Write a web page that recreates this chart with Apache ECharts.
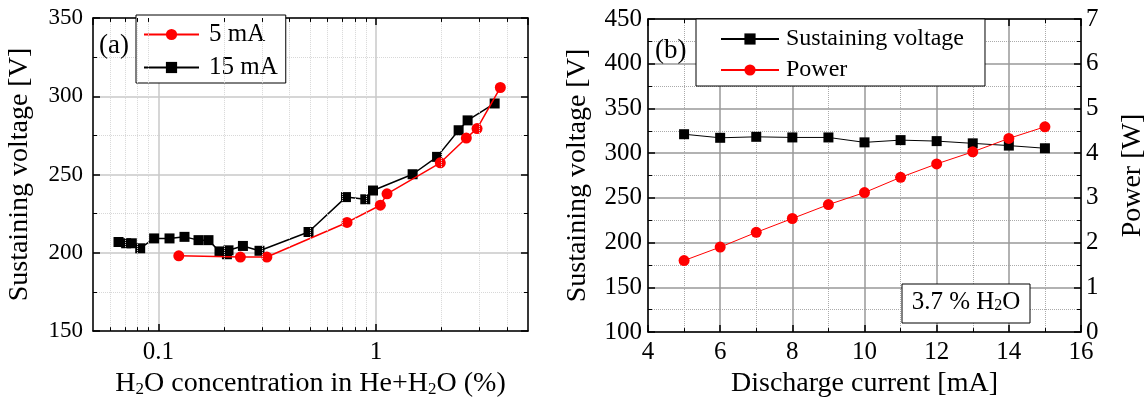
<!DOCTYPE html>
<html>
<head>
<meta charset="utf-8">
<script src="https://cdn.jsdelivr.net/npm/echarts@6/dist/echarts.min.js"></script>
<style>
html,body{margin:0;padding:0;background:#fff;}
#chart{width:1148px;height:403px;}
</style>
</head>
<body>
<div id="chart"></div>
<script>
// ---- Panel (a) data ----
const conc5 = [0.124, 0.238, 0.315, 0.736, 1.047, 1.124, 1.976, 2.603, 2.915, 3.73];
const volt5 = [198.1, 197.3, 197.3, 219.4, 230.4, 237.7, 257.5, 273.3, 279.4, 305.6];
const conc15 = [0.0655, 0.0710, 0.0754, 0.0824, 0.0955, 0.1124, 0.1317, 0.1528, 0.1698, 0.1908, 0.2064, 0.2099, 0.2445, 0.2914, 0.4897, 0.7278, 0.893, 0.969, 1.474, 1.909, 2.399, 2.638, 3.513];
const volt15 = [206.9, 206.1, 206.1, 202.9, 209.2, 209.2, 210.2, 208.1, 208.1, 200.9, 199.1, 201.6, 204.4, 201.3, 213.3, 235.6, 234.2, 239.8, 250.2, 261.3, 278.3, 284.6, 295.4];
const minorLogTicks = [0.06, 0.07, 0.08, 0.09, 0.2, 0.3, 0.4, 0.5, 0.6, 0.7, 0.8, 0.9, 2, 3, 4];
const legendA = ['5 mA', '15 mA'];

// ---- Panel (b) data ----
const current = [5, 6, 7, 8, 9, 10, 11, 12, 13, 14, 15];
const voltB = [321.2, 317.2, 318.3, 317.6, 317.6, 312.1, 314.6, 313.5, 311.0, 308.5, 305.5];
const power = [1.60, 1.90, 2.23, 2.54, 2.85, 3.12, 3.46, 3.76, 4.03, 4.33, 4.59];
const legendB = ['Sustaining voltage', 'Power'];

const FONT = 'Liberation Serif';
const zip = (a, b) => a.map((v, i) => [v, b[i]]);

const subRich = { s: { fontFamily: FONT, fontSize: 17, lineHeight: 10, verticalAlign: 'bottom', color: '#000' } };
const labelStyle = { fontFamily: FONT, fontSize: 23, color: '#000' };
const nameStyle = { fontFamily: FONT, fontSize: 28, color: '#000', lineHeight: 28, rich: subRich };

function logFmt(v) {
  const r = Math.round(Math.log10(v) * 1000) / 1000;
  if (r === -1) return '0.1';
  if (r === 0) return '1';
  return '';
}

// minor tick marks of the log axis (bottom and top edges), in data space
const minorTickLines = [];
minorLogTicks.forEach(v => {
  minorTickLines.push([{ coord: [v, 150] }, { coord: [v, 152.5] }]);
  minorTickLines.push([{ coord: [v, 347.5] }, { coord: [v, 350] }]);
});

const chart = echarts.init(document.getElementById('chart'), null, { renderer: 'canvas' });
const option = {
  animation: false,
  backgroundColor: '#fff',
  grid: [
    { left: 93, top: 18, width: 435, height: 320, show: false },
    { left: 648, top: 19, width: 437, height: 319, show: false }
  ],
  xAxis: [
    {
      gridIndex: 0, type: 'log', logBase: 10, min: 0.05, max: 5, position: 'bottom',
      name: 'H{s|2}O concentration in He+H{s|2}O (%)', nameLocation: 'middle', nameGap: 33,
      nameTextStyle: nameStyle,
      axisLine: { show: true, lineStyle: { color: '#000', width: 1.5 } },
      axisTick: { show: true, inside: true, length: 7, lineStyle: { color: '#000', width: 1.5 } },
      axisLabel: { ...labelStyle, fontSize: 25, margin: 9, formatter: logFmt, showMinLabel: false, showMaxLabel: false },
      splitLine: { show: true, lineStyle: { color: '#c8c8c8', width: 1.5 } }
    },
    {
      gridIndex: 0, type: 'log', logBase: 10, min: 0.05, max: 5, position: 'top',
      axisLine: { show: true, lineStyle: { color: '#000', width: 1.5 } },
      axisTick: { show: true, inside: true, length: 7, lineStyle: { color: '#000', width: 1.5 } },
      axisLabel: { show: false }, splitLine: { show: false }
    },
    {
      gridIndex: 1, type: 'value', min: 4, max: 16, interval: 2, position: 'bottom',
      name: 'Discharge current [mA]', nameLocation: 'middle', nameGap: 35,
      nameTextStyle: nameStyle,
      axisLine: { show: true, onZero: false, lineStyle: { color: '#000', width: 1.5 } },
      axisTick: { show: true, inside: true, length: 7, lineStyle: { color: '#000', width: 1.5 } },
      minorTick: { show: true, splitNumber: 2, length: 4, lineStyle: { color: '#000', width: 1 } },
      axisLabel: { ...labelStyle, fontSize: 25, margin: 8 },
      splitLine: { show: true, lineStyle: { color: '#999', width: 1.5 } },
      minorSplitLine: { show: true, lineStyle: { color: '#aaa', width: 1, type: 'dotted' } }
    },
    {
      gridIndex: 1, type: 'value', min: 4, max: 16, interval: 2, position: 'top',
      axisLine: { show: true, onZero: false, lineStyle: { color: '#000', width: 1.5 } },
      axisTick: { show: true, inside: true, length: 7, lineStyle: { color: '#000', width: 1.5 } },
      minorTick: { show: true, splitNumber: 2, length: 4, lineStyle: { color: '#000', width: 1 } },
      axisLabel: { show: false }, splitLine: { show: false }
    }
  ],
  yAxis: [
    {
      gridIndex: 0, type: 'value', min: 150, max: 350, interval: 50, position: 'left',
      name: 'Sustaining voltage [V]', nameLocation: 'middle', nameGap: 59, nameRotate: 90,
      nameTextStyle: nameStyle,
      axisLine: { show: true, onZero: false, lineStyle: { color: '#000', width: 1.5 } },
      axisTick: { show: true, inside: true, length: 7, lineStyle: { color: '#000', width: 1.5 } },
      minorTick: { show: true, splitNumber: 2, length: 4, lineStyle: { color: '#000', width: 1 } },
      axisLabel: { ...labelStyle, margin: 10 },
      splitLine: { show: true, lineStyle: { color: '#c8c8c8', width: 1.5 } },
      minorSplitLine: { show: true, lineStyle: { color: '#d8d8d8', width: 1, type: 'dotted' } }
    },
    {
      gridIndex: 0, type: 'value', min: 150, max: 350, interval: 50, position: 'right',
      axisLine: { show: true, onZero: false, lineStyle: { color: '#000', width: 1.5 } },
      axisTick: { show: true, inside: true, length: 7, lineStyle: { color: '#000', width: 1.5 } },
      minorTick: { show: true, splitNumber: 2, length: 4, lineStyle: { color: '#000', width: 1 } },
      axisLabel: { show: false }, splitLine: { show: false }
    },
    {
      gridIndex: 1, type: 'value', min: 100, max: 450, interval: 50, position: 'left',
      name: 'Sustaining voltage [V]', nameLocation: 'middle', nameGap: 56, nameRotate: 90,
      nameTextStyle: nameStyle,
      axisLine: { show: true, onZero: false, lineStyle: { color: '#000', width: 1.5 } },
      axisTick: { show: true, inside: true, length: 7, lineStyle: { color: '#000', width: 1.5 } },
      minorTick: { show: true, splitNumber: 2, length: 4, lineStyle: { color: '#000', width: 1 } },
      axisLabel: { ...labelStyle, fontSize: 25, margin: 6 },
      splitLine: { show: true, lineStyle: { color: '#999', width: 1.5 } },
      minorSplitLine: { show: true, lineStyle: { color: '#aaa', width: 1, type: 'dotted' } }
    },
    {
      gridIndex: 1, type: 'value', min: 0, max: 7, interval: 1, position: 'right',
      name: 'Power [W]', nameLocation: 'middle', nameGap: 38, nameRotate: 90,
      nameTextStyle: nameStyle,
      axisLine: { show: true, onZero: false, lineStyle: { color: '#000', width: 1.5 } },
      axisTick: { show: true, inside: true, length: 7, lineStyle: { color: '#000', width: 1.5 } },
      minorTick: { show: true, splitNumber: 2, length: 4, lineStyle: { color: '#000', width: 1 } },
      axisLabel: { ...labelStyle, fontSize: 25, margin: 5 },
      splitLine: { show: false }
    }
  ],
  legend: [
    {
      data: legendA, orient: 'vertical', left: 136, top: 15,
      backgroundColor: '#fff', borderColor: '#000', borderWidth: 1,
      padding: [7, 8, 3, 7], itemGap: 8, itemWidth: 55, itemHeight: 14,
      textStyle: { fontFamily: FONT, fontSize: 25, color: '#000', lineHeight: 24, padding: [0, 0, 0, 5] },
      selectedMode: false
    },
    {
      data: legendB, orient: 'vertical', left: 696, top: 19,
      backgroundColor: '#fff', borderColor: '#000', borderWidth: 1,
      padding: [8, 21, 4, 24], itemGap: 7, itemWidth: 58, itemHeight: 14,
      textStyle: { fontFamily: FONT, fontSize: 24, color: '#000', lineHeight: 24, padding: [0, 0, 0, 2] },
      selectedMode: false
    }
  ],
  series: [
    {
      name: 'minorGridA', type: 'line', xAxisIndex: 0, yAxisIndex: 0, data: [], z: 1, silent: true,
      markLine: {
        silent: true, symbol: ['none', 'none'], label: { show: false },
        lineStyle: { color: '#d8d8d8', width: 1, type: 'dotted' },
        emphasis: { disabled: true },
        data: minorLogTicks.map(v => ({ xAxis: v }))
      }
    },
    {
      name: 'minorTicksA', type: 'line', xAxisIndex: 0, yAxisIndex: 0, data: [], z: 5, silent: true,
      markLine: {
        silent: true, symbol: ['none', 'none'], label: { show: false },
        lineStyle: { color: '#000', width: 1, type: 'solid' },
        emphasis: { disabled: true },
        data: minorTickLines
      }
    },
    {
      name: '5 mA', type: 'line', xAxisIndex: 0, yAxisIndex: 0, z: 4,
      data: zip(conc5, volt5), symbol: 'circle', symbolSize: 11,
      itemStyle: { color: '#ff0000' }, lineStyle: { color: '#ff0000', width: 1.5 }
    },
    {
      name: '15 mA', type: 'line', xAxisIndex: 0, yAxisIndex: 0, z: 3,
      data: zip(conc15, volt15), symbol: 'rect', symbolSize: 10,
      itemStyle: { color: '#000' }, lineStyle: { color: '#000', width: 1.5 }
    },
    {
      name: 'Sustaining voltage', type: 'line', xAxisIndex: 2, yAxisIndex: 2, z: 3,
      data: zip(current, voltB), symbol: 'rect', symbolSize: 10,
      itemStyle: { color: '#000' }, lineStyle: { color: '#000', width: 1 }
    },
    {
      name: 'Power', type: 'line', xAxisIndex: 2, yAxisIndex: 3, z: 4,
      data: zip(current, power), symbol: 'circle', symbolSize: 11,
      itemStyle: { color: '#ff0000' }, lineStyle: { color: '#ff0000', width: 1 }
    }
  ],
  graphic: [
    { type: 'text', left: 99, top: 32, z: 10, style: { text: '(a)', fontFamily: FONT, fontSize: 27, fill: '#000' } },
    { type: 'text', left: 655, top: 37, z: 10, style: { text: '(b)', fontFamily: FONT, fontSize: 27, fill: '#000' } },
    { type: 'rect', shape: { x: 902, y: 284, width: 128, height: 39 }, z: 10,
      style: { fill: '#fff', stroke: '#000', lineWidth: 1 } },
    { type: 'text', x: 966, y: 302, z: 11,
      style: { text: '3.7 % H{s|2}O', fontFamily: FONT, fontSize: 25, fill: '#000', align: 'center', verticalAlign: 'middle',
        lineHeight: 24, rich: { s: { fontFamily: FONT, fontSize: 16, lineHeight: 8, verticalAlign: 'bottom', fill: '#000' } } } }
  ]
};
chart.setOption(option);
</script>
</body>
</html>
